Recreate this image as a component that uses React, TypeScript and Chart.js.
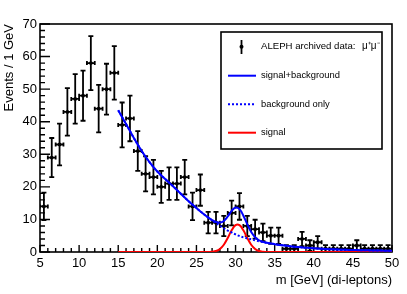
import { useEffect, useRef } from "react";
import { Chart, registerables } from "chart.js";

Chart.register(...registerables);

const FONT = "'Liberation Sans', Arial, Helvetica, sans-serif";

// Data histogram: bin centres (1 GeV bins) and counts
const binCenters = [
  5.5, 6.5, 7.5, 8.5, 9.5, 10.5, 11.5, 12.5, 13.5, 14.5,
  15.5, 16.5, 17.5, 18.5, 19.5, 20.5, 21.5, 22.5, 23.5, 24.5,
  25.5, 26.5, 27.5, 28.5, 29.5, 30.5, 31.5, 32.5, 33.5, 34.5,
  35.5, 36.5, 37.5, 38.5, 39.5, 40.5, 41.5, 42.5, 43.5, 44.5,
  45.5, 46.5, 47.5, 48.5, 49.5,
];
const counts = [
  14, 29, 33, 43, 47, 48, 58, 44, 50, 55,
  39, 41, 31, 24, 23, 20, 21, 21, 23, 14,
  19, 9, 9, 8, 12, 14, 8, 7, 6, 5,
  5, 1, 1, 4, 2, 3, 1, 1, 1, 1,
  2, 1, 1, 1, 1,
];
const countErrors = [
  4.2, 6.0, 6.4, 7.3, 7.6, 7.7, 8.3, 7.3, 7.8, 8.2,
  6.9, 7.0, 6.1, 5.4, 5.3, 4.9, 5.0, 5.0, 5.3, 4.2,
  4.8, 3.3, 3.3, 3.1, 3.8, 4.1, 3.1, 2.9, 2.7, 2.5,
  2.5, 1.1, 1.1, 2.2, 1.6, 1.9, 1.1, 1.1, 1.1, 1.1,
  1.6, 1.1, 1.1, 1.1, 1.1,
];
const binHalfWidth = 0.5;

// Fit curves sampled along m
const curveX = [
  15, 16, 17, 18, 19, 20, 21, 22, 23, 24, 25, 26,
  26.5, 27, 27.5, 28, 28.5, 29, 29.5, 30, 30.5, 31, 31.5, 32, 32.5, 33, 33.5, 34, 34.5, 35,
  36, 37, 38, 39, 40, 41, 42, 43, 44, 45, 46, 47, 48, 49, 50,
];
const sigPlusBkg = [
  43.5, 39.3, 35.0, 31.0, 27.6, 24.7, 22.4, 20.2, 17.9, 15.6, 13.5, 11.5,
  10.62, 9.78, 9.21, 9.03, 9.53, 10.9, 12.65, 13.67, 13.17, 11.15, 8.5, 6.13, 4.53, 3.61, 3.13, 2.82, 2.6, 2.4,
  2.05, 1.75, 1.5, 1.3, 1.12, 0.98, 0.86, 0.76, 0.68, 0.61, 0.55, 0.5, 0.46, 0.42, 0.39,
];
const bkgOnly = [
  43.5, 39.3, 35.0, 31.0, 27.6, 24.7, 22.4, 20.2, 17.9, 15.6, 13.5, 11.5,
  10.6, 9.7, 8.9, 8.1, 7.3, 6.6, 6.0, 5.4, 4.9, 4.5, 4.2, 3.9, 3.6, 3.3, 3.05, 2.8, 2.6, 2.4,
  2.05, 1.75, 1.5, 1.3, 1.12, 0.98, 0.86, 0.76, 0.68, 0.61, 0.55, 0.5, 0.46, 0.42, 0.39,
];
const signalOnly = [
  0, 0, 0, 0, 0, 0, 0, 0, 0, 0, 0, 0,
  0.02, 0.08, 0.31, 0.93, 2.23, 4.3, 6.65, 8.27, 8.27, 6.65, 4.3, 2.23, 0.93, 0.31, 0.08, 0.02, 0, 0,
  0, 0, 0, 0, 0, 0, 0, 0, 0, 0, 0, 0, 0, 0, 0,
];

const legendLabels = [
  "ALEPH archived data:",
  "signal+background",
  "background only",
  "signal",
];
const legendDataSuffix = "\u03bc\u207a\u03bc\u207b";

const BLUE = "#0000ff";
const RED = "#ff0000";

const framePlugin = {
  id: "rootFrame",
  beforeDatasetsDraw(chart: any) {
    const { ctx, chartArea, scales } = chart;
    const { left, right, top, bottom } = chartArea;
    const x = scales.x;
    const y = scales.y;
    ctx.save();
    ctx.strokeStyle = "#000";
    ctx.lineWidth = 1.6;
    ctx.strokeRect(left, top, right - left, bottom - top);
    ctx.lineWidth = 1.4;
    ctx.beginPath();
    for (let v = y.min; v <= y.max; v += 2) {
      const py = y.getPixelForValue(v);
      const len = v % 10 === 0 ? 10 : 5;
      ctx.moveTo(left, py);
      ctx.lineTo(left + len, py);
    }
    for (let v = x.min; v <= x.max; v += 1) {
      const px = x.getPixelForValue(v);
      const len = v % 5 === 0 ? 7 : 4;
      ctx.moveTo(px, bottom);
      ctx.lineTo(px, bottom - len);
    }
    ctx.stroke();

    // error bars of the data histogram
    ctx.beginPath();
    ctx.rect(left, top, right - left, bottom - top);
    ctx.clip();
    ctx.lineWidth = 1.8;
    ctx.beginPath();
    binCenters.forEach((c, i) => {
      const px = x.getPixelForValue(c);
      const py = y.getPixelForValue(counts[i]);
      const yTop = y.getPixelForValue(counts[i] + countErrors[i]);
      const yBot = y.getPixelForValue(Math.max(0, counts[i] - countErrors[i]));
      const xl = x.getPixelForValue(c - binHalfWidth);
      const xr = x.getPixelForValue(c + binHalfWidth);
      ctx.moveTo(px, yTop);
      ctx.lineTo(px, yBot);
      ctx.moveTo(px - 2.5, yTop);
      ctx.lineTo(px + 2.5, yTop);
      ctx.moveTo(px - 2.5, yBot);
      ctx.lineTo(px + 2.5, yBot);
      ctx.moveTo(xl, py);
      ctx.lineTo(xr, py);
      ctx.moveTo(xl, py - 2);
      ctx.lineTo(xl, py + 2);
      ctx.moveTo(xr, py - 2);
      ctx.lineTo(xr, py + 2);
    });
    ctx.stroke();
    ctx.restore();
  },
};

const legendPlugin = {
  id: "rootLegend",
  afterDraw(chart: any) {
    const { ctx } = chart;
    const ds = chart.data.datasets;
    const bx = 221, by = 32, bw = 161, bh = 117;
    ctx.save();
    ctx.fillStyle = "#fff";
    ctx.fillRect(bx, by, bw, bh);
    ctx.strokeStyle = "#000";
    ctx.lineWidth = 1.6;
    ctx.strokeRect(bx, by, bw, bh);
    const rows = [46.7, 75.7, 104.3, 132.7];
    const textX = 261;
    // data marker entry
    ctx.lineWidth = 1.8;
    ctx.beginPath();
    ctx.moveTo(241.5, 40);
    ctx.lineTo(241.5, 54);
    ctx.stroke();
    ctx.fillStyle = "#000";
    ctx.beginPath();
    ctx.arc(241.5, rows[0], 2, 0, Math.PI * 2);
    ctx.fill();
    // line entries
    for (let i = 1; i < 4; i++) {
      const d = ds[i];
      ctx.strokeStyle = d.borderColor;
      ctx.lineWidth = d.borderWidth;
      ctx.setLineDash(d.borderDash || []);
      ctx.beginPath();
      ctx.moveTo(228, rows[i]);
      ctx.lineTo(256, rows[i]);
      ctx.stroke();
    }
    ctx.setLineDash([]);
    ctx.fillStyle = "#000";
    ctx.textBaseline = "middle";
    ctx.textAlign = "left";
    ctx.font = `9.6px ${FONT}`;
    ctx.fillText(legendLabels[0], textX, rows[0]);
    ctx.font = `10px ${FONT}`;
    ctx.fillText(legendDataSuffix, 362, rows[0]);
    ctx.font = `9.4px ${FONT}`;
    for (let i = 1; i < 4; i++) ctx.fillText(legendLabels[i], textX, rows[i]);
    ctx.restore();
  },
};

export default function App() {
  const ref = useRef<HTMLCanvasElement>(null);
  useEffect(() => {
    const canvas = ref.current;
    if (!canvas) return;
    const chart = new Chart(canvas, {
      type: "line",
      data: {
        datasets: [
          {
            label: legendLabels[0] + " " + legendDataSuffix,
            data: binCenters.map((c, i) => ({ x: c, y: counts[i] })),
            showLine: false,
            pointRadius: 1.9,
            pointBackgroundColor: "#000",
            pointBorderColor: "#000",
            pointBorderWidth: 0,
            borderColor: "#000",
            order: 4,
          },
          {
            label: legendLabels[1],
            data: curveX.map((c, i) => ({ x: c, y: sigPlusBkg[i] })),
            borderColor: BLUE,
            borderWidth: 2,
            pointRadius: 0,
            tension: 0.4,
            fill: false,
            order: 1,
          },
          {
            label: legendLabels[2],
            data: curveX.map((c, i) => ({ x: c, y: bkgOnly[i] })),
            borderColor: BLUE,
            borderWidth: 2,
            borderDash: [2, 2],
            pointRadius: 0,
            tension: 0.4,
            fill: false,
            order: 2,
          },
          {
            label: legendLabels[3],
            data: curveX.map((c, i) => ({ x: c, y: signalOnly[i] })),
            borderColor: RED,
            borderWidth: 2,
            pointRadius: 0,
            tension: 0.4,
            fill: false,
            order: 3,
          },
        ],
      },
      options: {
        animation: false,
        responsive: true,
        maintainAspectRatio: false,
        layout: { padding: { left: 0, right: 15, top: 24, bottom: 0 } },
        plugins: {
          legend: { display: false },
          tooltip: { enabled: false },
        },
        scales: {
          x: {
            type: "linear",
            min: 5,
            max: 50,
            afterFit(s: any) {
              s.height = 42;
            },
            ticks: {
              stepSize: 5,
              color: "#000",
              font: { family: FONT, size: 13 },
              padding: 4,
              maxRotation: 0,
              autoSkip: false,
            },
            grid: { display: false, drawTicks: false },
            border: { display: false },
            title: {
              display: true,
              text: "m [GeV] (di-leptons)",
              align: "end",
              color: "#000",
              font: { family: FONT, size: 13 },
              padding: { top: 0, bottom: 6 },
            },
          },
          y: {
            type: "linear",
            min: 0,
            max: 70,
            afterFit(s: any) {
              s.width = 40;
            },
            ticks: {
              stepSize: 10,
              color: "#000",
              font: { family: FONT, size: 13 },
              padding: 3,
            },
            grid: { display: false, drawTicks: false },
            border: { display: false },
            title: {
              display: true,
              text: "Events / 1 GeV",
              align: "end",
              color: "#000",
              font: { family: FONT, size: 13 },
              padding: { top: 2, bottom: 0 },
            },
          },
        },
      },
      plugins: [framePlugin, legendPlugin],
    } as any);
    return () => chart.destroy();
  }, []);
  return (
    <div
      style={{
        position: "fixed",
        left: 0,
        top: 0,
        width: 407,
        height: 294,
        background: "#fff",
      }}
    >
      <canvas ref={ref} />
    </div>
  );
}
